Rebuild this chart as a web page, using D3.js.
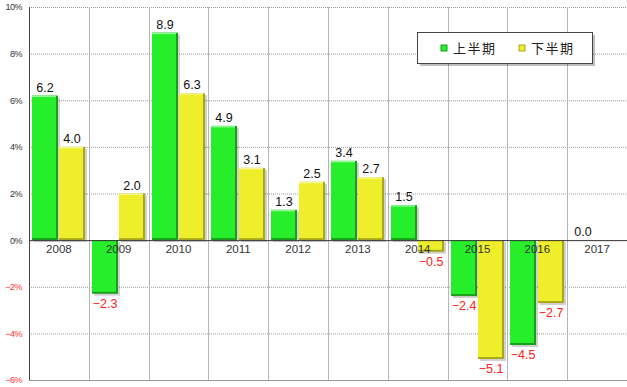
<!DOCTYPE html>
<html>
<head>
<meta charset="utf-8">
<script src="https://cdn.jsdelivr.net/npm/d3@7"></script>
<style>
  html, body { margin: 0; padding: 0; background: #fff; }
  text { font-family: "Liberation Sans", Arial, sans-serif; }
</style>
</head>
<body>
<div id="container"></div>
<script>
"use strict";

const years = ["2008", "2009", "2010", "2011", "2012", "2013", "2014", "2015", "2016", "2017"];
const seriesNames = ["上半期", "下半期"];
const firstHalf = [6.2, -2.3, 8.9, 4.9, 1.3, 3.4, 1.5, -2.4, -4.5, 0.0];
const secondHalf = [4.0, 2.0, 6.3, 3.1, 2.5, 2.7, -0.5, -5.1, -2.7, null];
const yTicks = [-6, -4, -2, 0, 2, 4, 6, 8, 10];
const colors = ["#27ee2b", "#eeee2a"];
const edgeColors = ["#1a9e1c", "#a8a81c"];

const width = 627;
const height = 387;
const margin = { top: 7, right: 0, bottom: 7, left: 29 };

const svg = d3.create("svg").attr("width", width).attr("height", height);
d3.select("#container").append(() => svg.node());

const x = d3.scaleBand().domain(years).range([margin.left, width - margin.right]);
const xSub = d3.scaleBand().domain(seriesNames).range([3, x.bandwidth() - 3]).paddingInner(0.03);
const y = d3.scaleLinear().domain([-6, 10]).range([height - margin.bottom, margin.top]);

const data = [];
years.forEach((yr, i) => {
  data.push({ year: yr, group: seriesNames[0], value: firstHalf[i], idx: 0 });
  if (secondHalf[i] !== null) data.push({ year: yr, group: seriesNames[1], value: secondHalf[i], idx: 1 });
});

// Horizontal dotted grid.
svg.append("g")
  .selectAll("line")
  .data(yTicks.filter((t) => t !== 0))
  .enter()
  .append("line")
  .attr("x1", margin.left)
  .attr("x2", width)
  .attr("y1", (d) => y(d) + 0.5)
  .attr("y2", (d) => y(d) + 0.5)
  .attr("stroke", "#999")
  .attr("stroke-dasharray", "1,1");

// Vertical grid between categories.
svg.append("g")
  .selectAll("line")
  .data(years.slice(1))
  .enter()
  .append("line")
  .attr("x1", (d) => Math.round(x(d)) + 0.5)
  .attr("x2", (d) => Math.round(x(d)) + 0.5)
  .attr("y1", margin.top)
  .attr("y2", height - margin.bottom)
  .attr("stroke", "#b5b5b5");

// Y-axis labels.
const yAxis = d3.axisLeft(y)
  .tickValues(yTicks)
  .tickSize(0)
  .tickPadding(7)
  .tickFormat((d) => (d < 0 ? "\u2212" + Math.abs(d) : d) + "%");

svg.append("g")
  .attr("transform", `translate(${margin.left}, 0)`)
  .call(yAxis)
  .call((g) => g.select(".domain").remove())
  .selectAll("text")
  .style("font-size", "9px")
  .style("letter-spacing", "-0.5px")
  .attr("fill", (d) => (d < 0 ? "#ff3030" : "#333"));

// Bars with a soft shadow and darker right/bottom edges.
const bars = svg.append("g").selectAll("g").data(data).enter().append("g")
  .attr("transform", (d) => `translate(${Math.round(x(d.year) + xSub(d.group))}, 0)`);
const bw = Math.round(xSub.bandwidth());

bars.filter((d) => d.value !== 0)
  .append("rect")
  .attr("x", 2)
  .attr("y", (d) => Math.min(y(d.value), y(0)) + 2)
  .attr("width", bw)
  .attr("height", (d) => Math.abs(y(d.value) - y(0)))
  .attr("fill", "rgba(0,0,0,0.18)");

bars.filter((d) => d.value !== 0)
  .append("rect")
  .attr("x", 0)
  .attr("y", (d) => Math.min(y(d.value), y(0)))
  .attr("width", bw)
  .attr("height", (d) => Math.abs(y(d.value) - y(0)))
  .attr("fill", (d) => edgeColors[d.idx]);

bars.filter((d) => d.value !== 0)
  .append("rect")
  .attr("x", 0)
  .attr("y", (d) => Math.min(y(d.value), y(0)))
  .attr("width", bw - 2)
  .attr("height", (d) => Math.abs(y(d.value) - y(0)) - 2)
  .attr("fill", (d) => colors[d.idx]);

bars.filter((d) => d.value > 0)
  .append("rect")
  .attr("x", 0)
  .attr("y", (d) => y(d.value))
  .attr("width", bw - 2)
  .attr("height", 1.5)
  .attr("fill", "rgba(255,255,255,0.5)");

// Zero line, left axis and bottom border.
svg.append("line")
  .attr("x1", margin.left).attr("x2", width)
  .attr("y1", y(0) + 0.5).attr("y2", y(0) + 0.5)
  .attr("stroke", "#333");
svg.append("line")
  .attr("x1", margin.left + 0.5).attr("x2", margin.left + 0.5)
  .attr("y1", margin.top).attr("y2", height - margin.bottom)
  .attr("stroke", "#444");
svg.append("line")
  .attr("x1", margin.left).attr("x2", width)
  .attr("y1", y(-6) + 0.5).attr("y2", y(-6) + 0.5)
  .attr("stroke", "#999");

// Category labels drawn over the bars.
const xAxis = d3.axisBottom(x).tickSize(0).tickPadding(5);
svg.append("g")
  .attr("transform", `translate(0, ${y(0)})`)
  .call(xAxis)
  .call((g) => g.select(".domain").remove())
  .selectAll("text")
  .style("font-size", "11.5px")
  .attr("fill", "#333");

// Value labels.
bars.append("text")
  .attr("x", bw / 2)
  .attr("y", (d) => (d.value >= 0 ? y(d.value) - 4 : y(d.value) + 14))
  .attr("text-anchor", "middle")
  .style("font-size", "12.5px")
  .attr("fill", (d) => (d.value < 0 ? "#ff2020" : "#111"))
  .text((d) => (d.value < 0 ? "\u2212" + Math.abs(d.value).toFixed(1) : d.value.toFixed(1)));

// Legend.
const legend = svg.append("g").attr("transform", "translate(417, 32)");
legend.append("rect")
  .attr("x", 3).attr("y", 3).attr("width", 175).attr("height", 31)
  .attr("fill", "rgba(0,0,0,0.25)");
legend.append("rect")
  .attr("x", 0.5).attr("y", 0.5).attr("width", 175).attr("height", 31)
  .attr("fill", "#fff").attr("stroke", "#444");

const legendItems = legend.selectAll(".item").data(seriesNames).enter().append("g")
  .attr("transform", (d, i) => `translate(${24 + i * 78}, 16)`);
legendItems.append("rect")
  .attr("x", 0).attr("y", -3).attr("width", 6).attr("height", 6)
  .attr("fill", (d, i) => colors[i])
  .attr("stroke", (d, i) => edgeColors[i]);
legendItems.append("text")
  .attr("x", 12)
  .attr("y", 0)
  .attr("dy", "0.36em")
  .style("font-family", "'Noto Sans CJK JP', sans-serif")
  .style("font-size", "13px")
  .style("letter-spacing", "1.5px")
  .attr("fill", "#222")
  .text((d) => d);
</script>
</body>
</html>
